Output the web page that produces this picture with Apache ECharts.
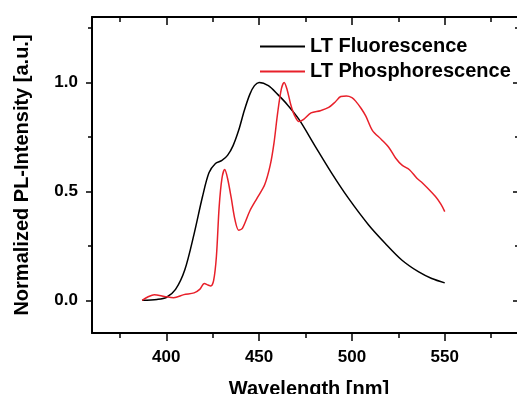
<!DOCTYPE html>
<html>
<head>
<meta charset="utf-8">
<script src="https://cdn.jsdelivr.net/npm/echarts@6/dist/echarts.min.js"></script>
<style>
  html, body { margin: 0; padding: 0; background: #fff; }
  #chart { width: 517px; height: 394px; }
</style>
</head>
<body>
<div id="chart"></div>
<script>
// LT fluorescence (black)
const flWave = [387, 395, 400, 405, 410, 415, 419.5, 423, 426.5, 430, 433, 436, 439, 442, 445, 447.5, 450, 455, 460, 465, 471.5, 480, 489, 498, 509, 518, 527, 536, 543, 550];
const flInt  = [0, 0.004, 0.013, 0.05, 0.14, 0.305, 0.475, 0.585, 0.628, 0.642, 0.665, 0.71, 0.78, 0.87, 0.945, 0.985, 1.0, 0.985, 0.945, 0.9, 0.83, 0.71, 0.585, 0.47, 0.346, 0.261, 0.184, 0.13, 0.1, 0.08];

// LT phosphorescence (red)
const phWave = [387, 390, 393.5, 399, 404, 409.5, 415, 418, 420.5, 422.5, 424, 425.5, 427, 428.5, 430, 431.5, 433, 435, 437, 439, 441, 445, 449, 453, 456, 458, 460, 462, 463.5, 465, 467, 469, 471.5, 474, 478, 483, 487.5, 491, 494, 497, 500, 502, 505, 507.5, 511, 516, 520, 523.5, 527, 531, 535, 538, 545, 548, 550];
const phInt  = [0, 0.015, 0.026, 0.018, 0.012, 0.026, 0.034, 0.05, 0.077, 0.07, 0.066, 0.09, 0.2, 0.43, 0.56, 0.6, 0.56, 0.47, 0.37, 0.322, 0.33, 0.41, 0.47, 0.53, 0.62, 0.72, 0.86, 0.97, 1.0, 0.97, 0.9, 0.85, 0.82, 0.83, 0.86, 0.87, 0.885, 0.91, 0.935, 0.937, 0.93, 0.914, 0.88, 0.845, 0.78, 0.737, 0.70, 0.653, 0.62, 0.599, 0.56, 0.538, 0.476, 0.44, 0.407];

// ticks
const xLabels = [400, 450, 500, 550];
const xMajor = [400, 450, 500, 550];
const xMinor = [375, 425, 475, 525, 575];
const yLabels = [0, 0.5, 1.0];
const yMajor = [0, 0.5, 1.0];
const yMinor = [0.25, 0.75, 1.25];

const font = '"Liberation Sans", Arial, sans-serif';
const black = '#000';
const red = '#e8202a';

const pairs = (xs, ys) => xs.map((x, i) => [x, ys[i]]);

const line = { show: true, onZero: false, lineStyle: { color: black, width: 2 } };
const noLine = { show: false, onZero: false };

function xAx(pos, ticks, len, inside, extra) {
  return Object.assign({
    type: 'value', position: pos, min: 360, max: 590,
    axisLine: noLine,
    axisTick: { show: true, customValues: ticks, length: len, inside: inside, lineStyle: { color: black, width: 1.5 } },
    axisLabel: { show: false },
    splitLine: { show: false }
  }, extra || {});
}
function yAx(pos, ticks, len, inside, extra) {
  return Object.assign({
    type: 'value', position: pos, min: -0.15, max: 1.3,
    axisLine: noLine,
    axisTick: { show: true, customValues: ticks, length: len, inside: inside, lineStyle: { color: black, width: 1.5 } },
    axisLabel: { show: false },
    splitLine: { show: false }
  }, extra || {});
}

const chart = echarts.init(document.getElementById('chart'));
chart.setOption({
  backgroundColor: '#fff',
  animation: false,
  grid: { left: 92, top: 17, width: 427, height: 316, outerBoundsMode: 'none' },
  legend: {
    left: 260, top: 34, orient: 'vertical', padding: 0, itemGap: 0,
    icon: 'rect', itemWidth: 45, itemHeight: 2,
    textStyle: { fontFamily: font, fontWeight: 'bold', fontSize: 20, color: black, lineHeight: 25 },
    data: ['LT Fluorescence', 'LT Phosphorescence']
  },
  xAxis: [
    xAx('bottom', xMajor, 8, false, {
      axisLine: line,
      axisLabel: { show: true, customValues: xLabels, margin: 16, fontFamily: font, fontWeight: 'bold', fontSize: 17, color: black },
      name: 'Wavelength [nm]', nameLocation: 'middle', nameGap: 46,
      nameTextStyle: { fontFamily: font, fontWeight: 'bold', fontSize: 20, color: black, padding: [0, 0, 0, 7] }
    }),
    xAx('bottom', xMinor, 5, false),
    xAx('top', xMajor, 8, true, { axisLine: line }),
    xAx('top', xMinor, 5, true)
  ],
  yAxis: [
    yAx('left', yMajor, 6, false, {
      axisLine: line,
      axisLabel: { show: true, customValues: yLabels, margin: 14, fontFamily: font, fontWeight: 'bold', fontSize: 17, color: black,
        formatter: v => v.toFixed(1) },
      name: 'Normalized PL-Intensity [a.u.]', nameLocation: 'middle', nameGap: 60,
      nameTextStyle: { fontFamily: font, fontWeight: 'bold', fontSize: 20, color: black }
    }),
    yAx('left', yMinor, 4, false),
    yAx('right', yMajor, 6, true),
    yAx('right', yMinor, 4, true)
  ],
  series: [
    {
      name: 'LT Fluorescence', type: 'line', xAxisIndex: 0, yAxisIndex: 0,
      data: pairs(flWave, flInt), smooth: 0.3, showSymbol: false,
      lineStyle: { color: black, width: 1.5 }, itemStyle: { color: black }
    },
    {
      name: 'LT Phosphorescence', type: 'line', xAxisIndex: 0, yAxisIndex: 0,
      data: pairs(phWave, phInt), smooth: 0.3, showSymbol: false,
      lineStyle: { color: red, width: 1.5 }, itemStyle: { color: red }
    }
  ]
});
</script>
</body>
</html>
